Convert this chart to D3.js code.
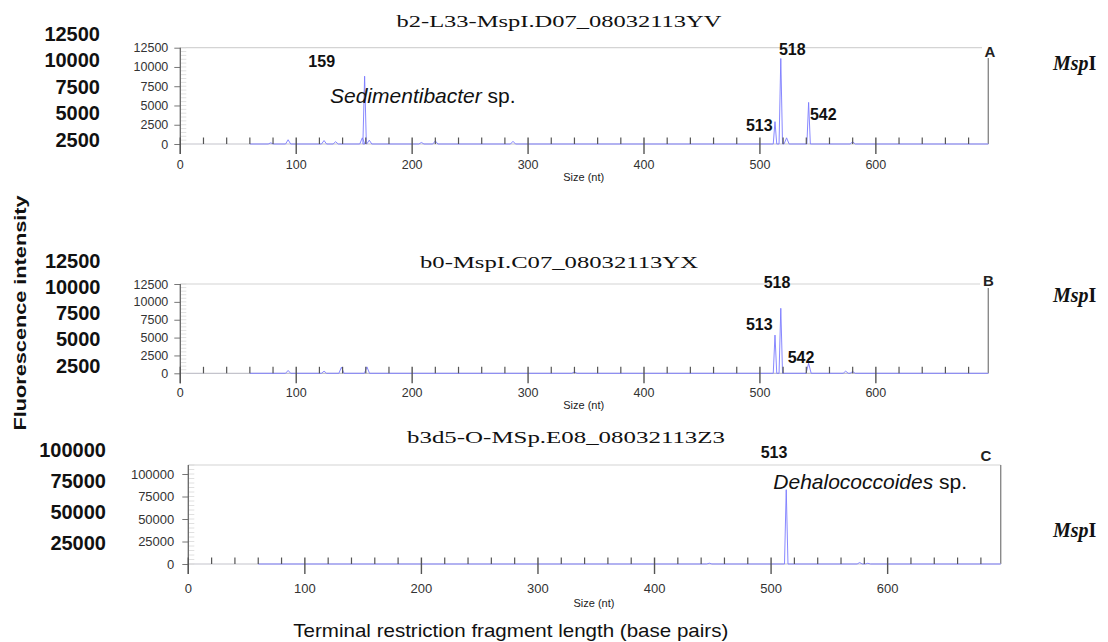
<!DOCTYPE html>
<html>
<head>
<meta charset="utf-8">
<script src="https://cdn.jsdelivr.net/npm/d3@7"></script>
<style>
  html, body { margin: 0; padding: 0; background: #fff; }
  svg { display: block; font-family: "Liberation Sans", Arial, sans-serif; }
</style>
</head>
<body>
<svg id="chart" width="1108" height="642"></svg>
<script>
// ---- data -------------------------------------------------------------
// Electropherogram peaks: [fragment size (nt), fluorescence intensity]
const peaksA = [
  [78, 150], [93, 550], [124, 450], [134, 300], [157, 800], [159, 8800],
  [163, 500], [208, 200], [220, 400], [287, 350], [513, 2900], [518, 11100],
  [523, 800], [542, 5400], [580, 300]
];
const peaksB = [
  [93, 400], [124, 300], [139, 850], [161, 900], [340, 200],
  [513, 5350], [518, 9100], [542, 1400], [574, 300], [580, 250]
];
const peaksC = [
  [447, 900], [513, 82600], [576, 1600], [583, 800]
];

const titles = ["b2-L33-MspI.D07_08032113YV", "b0-MspI.C07_08032113YX", "b3d5-O-MSp.E08_08032113Z3"];
const panelLetters = ["A", "B", "C"];
const sizeTicks = [0, 100, 200, 300, 400, 500, 600];
const intensityTicksAB = [0, 2500, 5000, 7500, 10000, 12500];
const intensityTicksC = [0, 25000, 50000, 75000, 100000];
const sideLabelsAB = ["12500", "10000", "7500", "5000", "2500"];
const sideLabelsC = ["100000", "75000", "50000", "25000"];

// peak annotations: fragment size text for each labelled peak
const annotA = ["159", "518", "513", "542"];
const annotB = ["518", "513", "542"];
const annotC = ["513"];
const speciesA = "Sedimentibacter";
const speciesC = "Dehalococcoides";

// ---- layout -----------------------------------------------------------
const svg = d3.select("#chart");
const traceColor = "#7b7bff";
const serif = "'Liberation Serif', 'Times New Roman', serif";

const panels = [
  { peaks: peaksA, title: titles[0], letter: panelLetters[0], annot: annotA,
    x0: 180.3, x1: 988.3, top: 47.7, base: 144, yMax: 12500,
    yTicks: intensityTicksAB, minorStep: 500, tickFont: 12.5, tickPad: 6,
    titleX: 559, titleY: 26.7, titleLen: 325,
    xlabY: 25, sizeY: 37, sideLabels: sideLabelsAB, sideX: 100, sideY0: 40.5, sideStep: 26.5,
    letterPos: [990, 57], rightTop: 58, topEnd: 982,
    annotPos: [[321.7, 66.5], [792.3, 54.8], [759.3, 130.8], [823.3, 119.8]],
    mspY: 70 },
  { peaks: peaksB, title: titles[1], letter: panelLetters[1], annot: annotB,
    x0: 180.3, x1: 988.3, top: 284, base: 373.3, yMax: 12500,
    yTicks: intensityTicksAB, minorStep: 500, tickFont: 12.5, tickPad: 6,
    titleX: 559, titleY: 268.3, titleLen: 278,
    xlabY: 24, sizeY: 36, sideLabels: sideLabelsAB, sideX: 100.5, sideY0: 267.8, sideStep: 26.2,
    letterPos: [988.3, 286], rightTop: 288, topEnd: 980,
    annotPos: [[777, 288], [759.3, 329.8], [801, 363]],
    mspY: 301.5 },
  { peaks: peaksC, title: titles[2], letter: panelLetters[2], annot: annotC,
    x0: 188.3, x1: 1000.7, top: 465, base: 564, yMax: 110000,
    yTicks: intensityTicksC, minorStep: 5000, tickFont: 13, tickPad: 8,
    titleX: 566, titleY: 442.7, titleLen: 318,
    xlabY: 29, sizeY: 43, sideLabels: sideLabelsC, sideX: 106, sideY0: 457, sideStep: 31.1,
    letterPos: [986, 460.5], rightTop: 465, topEnd: 1000.7,
    annotPos: [[774, 457.5]],
    mspY: 536.5 }
];

panels.forEach(p => {
  const g = svg.append("g");
  const x = d3.scaleLinear().domain([0, 697]).range([p.x0, p.x1]);
  const y = d3.scaleLinear().domain([0, p.yMax]).range([p.base, p.top]);

  // frame: light top rule and darker right edge
  g.append("line").attr("x1", p.x0).attr("x2", p.topEnd)
    .attr("y1", p.top).attr("y2", p.top)
    .attr("stroke", "#d4d4d4").attr("stroke-width", 1.2);
  g.append("line").attr("x1", p.x1).attr("x2", p.x1)
    .attr("y1", p.rightTop).attr("y2", p.base)
    .attr("stroke", "#8a8a8a").attr("stroke-width", 1.4);

  // baseline
  g.append("line").attr("x1", p.x0).attr("x2", p.x1)
    .attr("y1", p.base).attr("y2", p.base)
    .attr("stroke", "#c4c4cc").attr("stroke-width", 1.2);

  // minor y ticks inside the plot
  const minor = d3.range(0, p.yMax + 1, p.minorStep);
  g.selectAll(".ymin").data(minor).join("line")
    .attr("x1", p.x0).attr("x2", p.x0 + 6)
    .attr("y1", d => y(d)).attr("y2", d => y(d))
    .attr("stroke", "#d8d8d8").attr("stroke-width", 0.8);

  // y axis
  const yAxis = d3.axisLeft(y).tickValues(p.yTicks).tickSize(6).tickPadding(p.tickPad)
    .tickFormat(d3.format("d"));
  const ya = g.append("g").attr("transform", `translate(${p.x0},0)`).call(yAxis);
  ya.select(".domain").remove();
  ya.selectAll("line").attr("stroke", "#777");
  ya.selectAll("text").attr("fill", "#333")
    .style("font-size", p.tickFont + "px")
    .style("font-family", "'Liberation Sans', Arial, sans-serif");
  g.append("line").attr("x1", p.x0).attr("x2", p.x0)
    .attr("y1", p.top).attr("y2", p.base + 10)
    .attr("stroke", "#666").attr("stroke-width", 1.3);

  // electropherogram trace built from the peak list
  const sorted = p.peaks.slice().sort((a, b) => a[0] - b[0]);
  const pts = [[60, 0]];
  sorted.forEach(([s, h]) => {
    const w = h > 2000 ? 1.5 : 2.2;
    pts.push([s - w, 0], [s, h], [s + w, 0]);
  });
  pts.push([697, 0]);
  g.append("path").datum(pts)
    .attr("d", d3.line().x(d => x(d[0])).y(d => y(d[1])))
    .attr("fill", "none").attr("stroke", traceColor).attr("stroke-width", 1)
    .attr("stroke-linejoin", "round").attr("opacity", 0.9);

  // x ticks: minor every 20 nt above the baseline, major every 100 nt across it
  const minorX = d3.range(20, 697, 20).filter(d => d % 100 !== 0);
  g.selectAll(".xmin").data(minorX).join("line")
    .attr("x1", d => x(d)).attr("x2", d => x(d))
    .attr("y1", p.base - 6.5).attr("y2", p.base)
    .attr("stroke", "#555").attr("stroke-width", 1.2);
  g.selectAll(".xmaj").data(sizeTicks).join("line")
    .attr("x1", d => x(d)).attr("x2", d => x(d))
    .attr("y1", p.base - 6.5).attr("y2", p.base + 10)
    .attr("stroke", "#555").attr("stroke-width", 1.4);
  g.selectAll(".xlab").data(sizeTicks).join("text")
    .attr("x", d => x(d)).attr("y", p.base + p.xlabY)
    .attr("text-anchor", "middle").style("font-size", p.tickFont + "px").attr("fill", "#333")
    .text(d => d);
  g.append("text").attr("x", x(348)).attr("y", p.base + p.sizeY)
    .attr("text-anchor", "middle").style("font-size", "11px").attr("fill", "#222")
    .text("Size (nt)");

  // run title
  g.append("text").attr("x", p.titleX).attr("y", p.titleY)
    .attr("text-anchor", "middle")
    .style("font-family", serif)
    .style("font-size", "17.5px").attr("fill", "#111")
    .attr("textLength", p.titleLen).attr("lengthAdjust", "spacingAndGlyphs")
    .text(p.title);

  // panel letter
  g.append("text").attr("x", p.letterPos[0]).attr("y", p.letterPos[1])
    .attr("text-anchor", "middle").style("font-size", "15px").style("font-weight", "bold")
    .attr("fill", "#222").text(p.letter);

  // peak size annotations
  p.annot.forEach((t, i) => {
    g.append("text").attr("x", p.annotPos[i][0]).attr("y", p.annotPos[i][1])
      .attr("text-anchor", "middle").style("font-size", "16px").style("font-weight", "bold")
      .attr("fill", "#111").text(t);
  });

  // large intensity labels on the far left
  g.selectAll(".side").data(p.sideLabels).join("text")
    .attr("x", p.sideX).attr("y", (d, i) => p.sideY0 + i * p.sideStep)
    .attr("text-anchor", "end").style("font-size", "20px").style("font-weight", "bold")
    .attr("fill", "#111").text(d => d);

  // enzyme label
  const m = g.append("text").attr("x", 1053).attr("y", p.mspY)
    .style("font-family", serif)
    .style("font-size", "20px").style("font-weight", "bold").attr("fill", "#111");
  m.append("tspan").style("font-style", "italic").text("Msp");
  m.append("tspan").text("I");
});

// species names
const sA = svg.append("text").attr("x", 330).attr("y", 103)
  .style("font-size", "21px").attr("fill", "#111");
sA.append("tspan").style("font-style", "italic").text(speciesA);
sA.append("tspan").text(" sp.");

const sC = svg.append("text").attr("x", 773.3).attr("y", 489)
  .style("font-size", "21px").attr("fill", "#111");
sC.append("tspan").style("font-style", "italic").text(speciesC);
sC.append("tspan").text(" sp.");

// shared axis titles
svg.append("text")
  .attr("transform", "translate(26,313) rotate(-90)")
  .attr("text-anchor", "middle").style("font-size", "17px").style("font-weight", "bold")
  .attr("fill", "#111").attr("textLength", 235).attr("lengthAdjust", "spacingAndGlyphs")
  .text("Fluorescence intensity");

svg.append("text").attr("x", 293.3).attr("y", 637)
  .style("font-size", "19px").attr("fill", "#111")
  .attr("textLength", 435).attr("lengthAdjust", "spacingAndGlyphs")
  .text("Terminal restriction fragment length (base pairs)");
</script>
</body>
</html>
